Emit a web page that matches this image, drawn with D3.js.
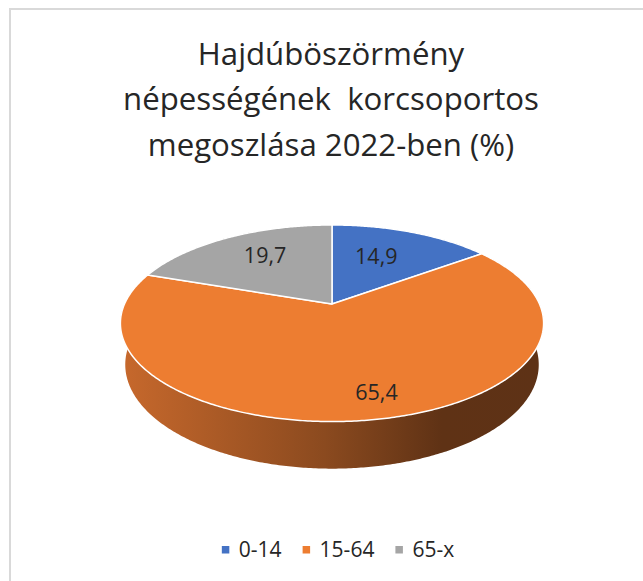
<!DOCTYPE html>
<html>
  <head>
    <meta charset="utf-8" />
    <title>Hajdúböszörmény korcsoportos megoszlás</title>
    <script src="https://d3js.org/d3.v7.min.js"></script>
    <style>
      body { margin: 0; background: #fff; }
      text { font-family: "Open Sans", sans-serif; fill: #262626; }
    </style>
  </head>
  <body>
    <svg id="chart" width="643" height="581"></svg>

    <script>
      // data
      var categories = ["0-14", "15-64", "65-x"];
      var values = [14.9, 65.4, 19.7];
      var labels = ["14,9", "65,4", "19,7"];
      var titleLines = ["Hajdúböszörmény", "népességének  korcsoportos", "megoszlása 2022-ben (%)"];

      var colors = ["#4472c4", "#ed7d31", "#a5a5a5"];

      var svg = d3.select("#chart");

      // chart frame (only top + left edge visible in the crop)
      svg.append("path")
        .attr("d", "M10,700 L10,9 L700,9")
        .attr("fill", "none")
        .attr("stroke", "#d9d9d9")
        .attr("stroke-width", 2);

      // title
      svg.append("g")
        .selectAll("text")
        .data(titleLines)
        .enter()
        .append("text")
        .attr("x", 331)
        .attr("y", function (d, i) { return 64.5 + i * 45.5; })
        .attr("text-anchor", "middle")
        .attr("font-size", 31.2)
        .style("white-space", "pre")
        .text(function (d) { return d; });

      // 3d projection of the pie disk
      var cx = 332, cy = 304;
      var f = 942, D = 4.54;
      var tilt = 27.1 * Math.PI / 180;
      var sn = Math.sin(tilt), cs = Math.cos(tilt);
      var thick = 0.225;

      function project(theta, r, h) {
        var u = r * Math.sin(theta);
        var v = r * Math.cos(theta);
        var depth = D + v * cs - h * sn;
        return [cx + f * u / depth, cy - f * (v * sn + h * cs) / depth];
      }

      var pie = d3.pie().sort(null).value(function (d) { return d; });
      var arcs = pie(values);

      var line = d3.line().curve(d3.curveLinear);

      function rim(a0, a1, h) {
        var n = Math.max(2, Math.ceil((a1 - a0) / 0.01));
        return d3.range(n + 1).map(function (i) {
          return project(a0 + (a1 - a0) * i / n, 1, h);
        });
      }

      // side gradient
      var grad = svg.append("defs")
        .append("linearGradient")
        .attr("id", "sideGrad")
        .attr("gradientUnits", "userSpaceOnUse")
        .attr("x1", 124).attr("y1", 0)
        .attr("x2", 542).attr("y2", 0);
      grad.append("stop").attr("offset", "0%").attr("stop-color", "#c6682c");
      grad.append("stop").attr("offset", "48%").attr("stop-color", "#8b4a1f");
      grad.append("stop").attr("offset", "76%").attr("stop-color", "#5f3215");
      grad.append("stop").attr("offset", "100%").attr("stop-color", "#5e3216");

      var sideFill = ["#2f4f8a", "url(#sideGrad)", "#737373"];

      // sides first
      svg.append("g")
        .selectAll("path")
        .data(arcs)
        .enter()
        .append("path")
        .attr("d", function (d) {
          var top = rim(d.startAngle, d.endAngle, 0);
          var bottom = rim(d.startAngle, d.endAngle, -thick).reverse();
          return line(top.concat(bottom)) + "Z";
        })
        .attr("fill", function (d, i) { return sideFill[i]; });

      // top faces
      svg.append("g")
        .selectAll("path")
        .data(arcs)
        .enter()
        .append("path")
        .attr("d", function (d) {
          var pts = [project(0, 0, 0)].concat(rim(d.startAngle, d.endAngle, 0));
          return line(pts) + "Z";
        })
        .attr("fill", function (d, i) { return colors[i]; })
        .attr("stroke", "#fff")
        .attr("stroke-width", 1.5)
        .attr("stroke-linejoin", "round");

      // data labels
      var labelR = [0.58, 0.8, 0.6];
      var labelShift = [[-5, -3], [15, 0], [-1, -6]];
      svg.append("g")
        .selectAll("text")
        .data(arcs)
        .enter()
        .append("text")
        .attr("x", function (d, i) {
          return project((d.startAngle + d.endAngle) / 2, labelR[i], 0)[0] + labelShift[i][0];
        })
        .attr("y", function (d, i) {
          return project((d.startAngle + d.endAngle) / 2, labelR[i], 0)[1] + labelShift[i][1];
        })
        .attr("dy", "0.35em")
        .attr("text-anchor", "middle")
        .attr("font-size", 21.5)
        .text(function (d, i) { return labels[i]; });

      // legend, entries laid out one after another and centred
      var legend = svg.append("g");
      var items = legend.selectAll("g")
        .data(categories)
        .enter()
        .append("g");

      items.append("rect")
        .attr("y", 546)
        .attr("width", 7.5)
        .attr("height", 7.5)
        .attr("fill", function (d, i) { return colors[i]; });

      items.append("text")
        .attr("x", 17)
        .attr("y", 557)
        .attr("font-size", 21)
        .text(function (d) { return d; });

      var pos = 0;
      items.each(function () {
        var w = d3.select(this).select("text").node().getComputedTextLength();
        d3.select(this).attr("data-x", pos);
        pos += 17 + w + 21;
      });
      var total = pos - 21;
      var startX = 338 - total / 2;
      items.attr("transform", function () {
        return "translate(" + (startX + (+d3.select(this).attr("data-x"))) + ",0)";
      });
    </script>
  </body>
</html>
